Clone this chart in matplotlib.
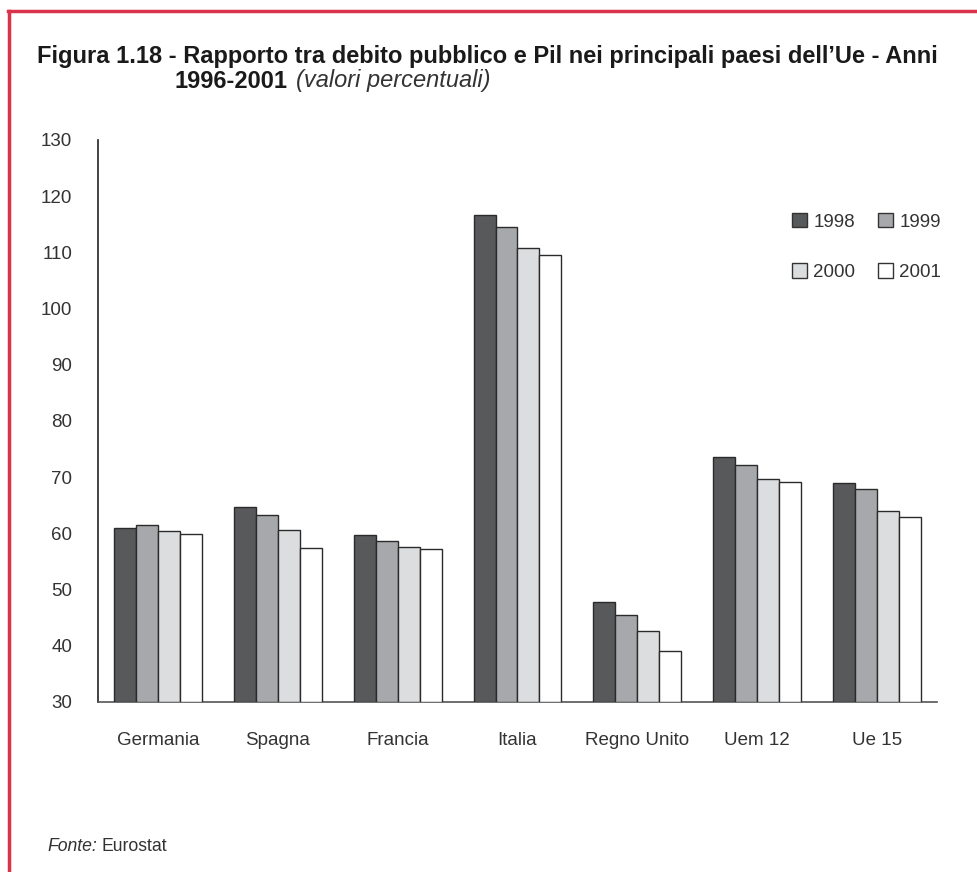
import numpy as np
import matplotlib.pyplot as plt
from matplotlib.lines import Line2D
from matplotlib.patches import Patch

paesi = ["Germania", "Spagna", "Francia", "Italia", "Regno Unito", "Uem 12", "Ue 15"]
anni = ["1998", "1999", "2000", "2001"]
debito_1998 = [60.9, 64.7, 59.7, 116.6, 47.7, 73.5, 69.0]
debito_1999 = [61.4, 63.3, 58.6, 114.6, 45.4, 72.1, 67.9]
debito_2000 = [60.4, 60.5, 57.5, 110.8, 42.5, 69.6, 64.0]
debito_2001 = [59.8, 57.3, 57.2, 109.6, 39.1, 69.2, 62.9]

serie = [debito_1998, debito_1999, debito_2000, debito_2001]
colori = ["#58595b", "#a7a8ab", "#dcdddf", "#ffffff"]

plt.rcParams["font.family"] = ["Liberation Sans", "DejaVu Sans"]

W, H = 978, 872
fig = plt.figure(figsize=(W / 100, H / 100), dpi=100)
ax = fig.add_axes([98 / W, 1 - 701.7 / H, (937 - 98) / W, (701.7 - 140) / H])

x = np.arange(len(paesi))
larg = 0.183
for i, (vals, col) in enumerate(zip(serie, colori)):
    ax.bar(x + (i - 1.5) * larg, np.array(vals) - 30, bottom=30, width=larg,
           color=col, edgecolor="#2b2b2b", linewidth=1.0, zorder=3)

ax.set_xlim(-0.5, 6.5)
ax.set_ylim(30, 130)
ax.set_yticks(range(30, 131, 10))
ax.set_xticks(x)
ax.set_xticklabels(paesi)
ax.tick_params(axis="both", length=0, labelsize=13.5, labelcolor="#333333")
ax.tick_params(axis="y", pad=18.5)
ax.tick_params(axis="x", pad=22)
for s in ["top", "right"]:
    ax.spines[s].set_visible(False)
ax.spines["left"].set_color("#222222")
ax.spines["bottom"].set_color("#555555")
ax.spines["left"].set_linewidth(1.2)
ax.spines["bottom"].set_linewidth(1.2)

handles = [Patch(facecolor=c, edgecolor="#333333", linewidth=1.0) for c in colori]
# column-major order so the rows read 1998 1999 / 2000 2001
order = [0, 2, 1, 3]
ax.legend([handles[k] for k in order], [anni[k] for k in order], ncol=2,
          loc="upper left", bbox_to_anchor=((775 - 98) / (937 - 98), 1 - (196 - 140) / 561.7),
          frameon=False, fontsize=13.5, handlelength=0.8, handleheight=0.8,
          handletextpad=0.35, columnspacing=1.2, labelspacing=1.75,
          labelcolor="#333333")

# title, second line with bold years followed by italic unit
fs_tit = 17.0
fig.text(37 / W, 1 - 57 / H,
         "Figura 1.18 - Rapporto tra debito pubblico e Pil nei principali paesi dell\u2019Ue - Anni",
         fontsize=fs_tit, fontweight="bold", color="#1a1a1a", va="center", ha="left")
anni_txt = fig.text(175 / W, 1 - 81 / H, "1996-2001", fontsize=fs_tit, fontweight="bold",
                    color="#1a1a1a", va="center", ha="left")
fig.canvas.draw()
x_fine = anni_txt.get_window_extent().x1
fig.text((x_fine + 8) / W, 1 - 81 / H, "(valori percentuali)", fontsize=fs_tit,
         style="italic", color="#333333", va="center", ha="left")

# source
fig.text(47 / W, 1 - 846 / H, "Fonte:", fontsize=12.7, style="italic", color="#333333",
         va="center", ha="left")
fig.text(102 / W, 1 - 846 / H, "Eurostat", fontsize=12.7, color="#333333",
         va="center", ha="left")

# red frame
red = "#d9344c"
fig.add_artist(Line2D([8 / W, 1], [1 - 11 / H, 1 - 11 / H], color=red, linewidth=2.5,
                      transform=fig.transFigure))
fig.add_artist(Line2D([9 / W, 9 / W], [0, 1 - 11 / H], color=red, linewidth=2.5,
                      transform=fig.transFigure))

fig.savefig("out.png", dpi=100)
